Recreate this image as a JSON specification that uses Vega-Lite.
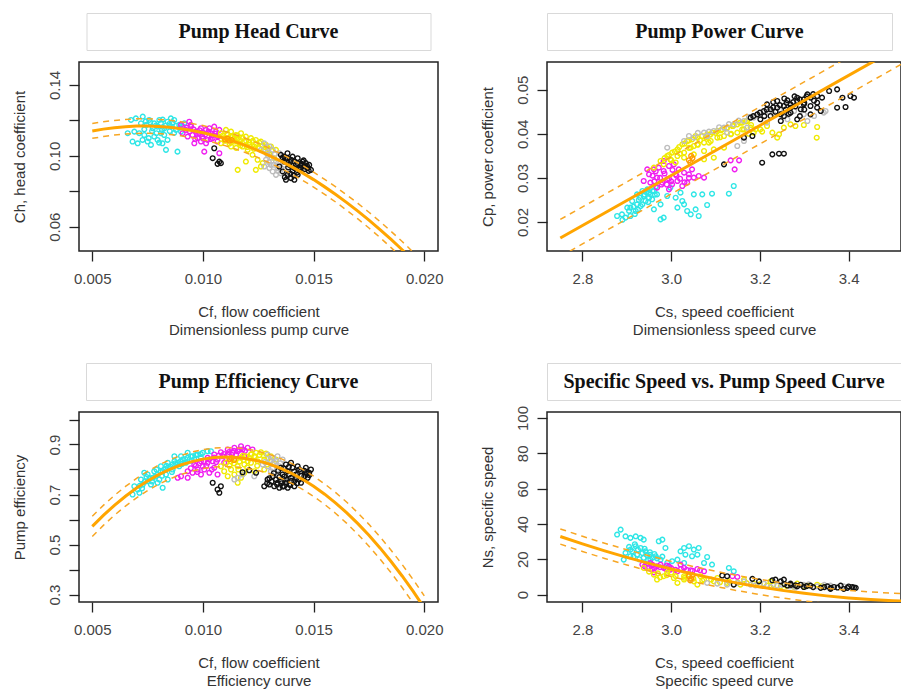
{
"$schema": "https://vega.github.io/schema/vega-lite/v6.json",
"background": "white",
"padding": {"left": 11, "top": 12, "right": 0, "bottom": 0},
"columns": 2,
"spacing": {"row": 12, "column": 109},
"bounds": "flush",
"align": "each",
"center": true,
"datasets": {
"h": [
{"g":"cyan","x":0.00697,"y":0.1212},{"g":"cyan","x":0.00728,"y":0.1222},{"g":"cyan","x":0.00720,"y":0.1184},{"g":"cyan","x":0.00690,"y":0.1137},{"g":"cyan","x":0.00712,"y":0.1128},{"g":"cyan","x":0.00735,"y":0.1118},{"g":"cyan","x":0.00682,"y":0.1081},{"g":"cyan","x":0.00705,"y":0.1071},{"g":"cyan","x":0.00727,"y":0.1090},{"g":"cyan","x":0.00750,"y":0.1081},{"g":"cyan","x":0.00765,"y":0.1062},{"g":"cyan","x":0.00780,"y":0.1109},{"g":"cyan","x":0.00795,"y":0.1090},{"g":"cyan","x":0.00810,"y":0.1128},{"g":"cyan","x":0.00825,"y":0.1156},{"g":"cyan","x":0.00840,"y":0.1193},{"g":"cyan","x":0.00855,"y":0.1212},{"g":"cyan","x":0.00870,"y":0.1203},{"g":"cyan","x":0.00817,"y":0.1071},{"g":"cyan","x":0.00833,"y":0.1034},{"g":"cyan","x":0.00885,"y":0.1024},{"g":"cyan","x":0.00840,"y":0.1090},{"g":"cyan","x":0.00780,"y":0.1184},{"g":"cyan","x":0.00757,"y":0.1203},{"g":"cyan","x":0.00803,"y":0.1203},{"g":"cyan","x":0.00893,"y":0.1175},{"g":"cyan","x":0.00916,"y":0.1184},{"g":"cyan","x":0.00675,"y":0.1203},{"g":"cyan","x":0.00660,"y":0.1128},{"g":"cyan","x":0.00773,"y":0.1156},{"g":"cyan","x":0.00795,"y":0.1165},{"g":"cyan","x":0.00855,"y":0.1165},{"g":"cyan","x":0.00878,"y":0.1147},{"g":"cyan","x":0.00901,"y":0.1137},{"g":"cyan","x":0.00825,"y":0.1118},
{"g":"cyan","x":0.00745,"y":0.1175},{"g":"cyan","x":0.00762,"y":0.1190},{"g":"cyan","x":0.00788,"y":0.1172},{"g":"cyan","x":0.00810,"y":0.1185},{"g":"cyan","x":0.00832,"y":0.1170},{"g":"cyan","x":0.00848,"y":0.1180},{"g":"cyan","x":0.00862,"y":0.1188},{"g":"cyan","x":0.00880,"y":0.1170},{"g":"cyan","x":0.00895,"y":0.1160},{"g":"cyan","x":0.00908,"y":0.1168},{"g":"cyan","x":0.00770,"y":0.1140},{"g":"cyan","x":0.00790,"y":0.1128},{"g":"cyan","x":0.00815,"y":0.1145},{"g":"cyan","x":0.00850,"y":0.1140},{"g":"cyan","x":0.00870,"y":0.1130},{"g":"cyan","x":0.00735,"y":0.1150},{"g":"cyan","x":0.00755,"y":0.1100},{"g":"cyan","x":0.00802,"y":0.1075},{"g":"cyan","x":0.00742,"y":0.1195},{"g":"cyan","x":0.00818,"y":0.1205},
{"g":"magenta","x":0.00901,"y":0.1175},{"g":"magenta","x":0.00923,"y":0.1147},{"g":"magenta","x":0.00946,"y":0.1165},{"g":"magenta","x":0.00968,"y":0.1137},{"g":"magenta","x":0.00991,"y":0.1156},{"g":"magenta","x":0.01014,"y":0.1147},{"g":"magenta","x":0.01036,"y":0.1128},{"g":"magenta","x":0.01059,"y":0.1137},{"g":"magenta","x":0.01074,"y":0.1147},{"g":"magenta","x":0.00931,"y":0.1109},{"g":"magenta","x":0.00953,"y":0.1118},{"g":"magenta","x":0.00976,"y":0.1100},{"g":"magenta","x":0.00998,"y":0.1109},{"g":"magenta","x":0.01021,"y":0.1090},{"g":"magenta","x":0.01044,"y":0.1100},{"g":"magenta","x":0.01066,"y":0.1081},{"g":"magenta","x":0.00908,"y":0.1128},{"g":"magenta","x":0.00961,"y":0.1071},{"g":"magenta","x":0.01006,"y":0.1024},{"g":"magenta","x":0.00983,"y":0.1128},{"g":"magenta","x":0.01029,"y":0.1156},{"g":"magenta","x":0.01051,"y":0.1165},{"g":"magenta","x":0.00938,"y":0.1193},{"g":"magenta","x":0.01014,"y":0.1071},{"g":"magenta","x":0.00991,"y":0.1081},{"g":"magenta","x":0.01074,"y":0.1015},
{"g":"magenta","x":0.00925,"y":0.1160},{"g":"magenta","x":0.00940,"y":0.1138},{"g":"magenta","x":0.00958,"y":0.1150},{"g":"magenta","x":0.00972,"y":0.1125},{"g":"magenta","x":0.00985,"y":0.1145},{"g":"magenta","x":0.00998,"y":0.1132},{"g":"magenta","x":0.01010,"y":0.1120},{"g":"magenta","x":0.01025,"y":0.1138},{"g":"magenta","x":0.01040,"y":0.1115},{"g":"magenta","x":0.01055,"y":0.1125},{"g":"magenta","x":0.01068,"y":0.1110},{"g":"magenta","x":0.00965,"y":0.1095},{"g":"magenta","x":0.01000,"y":0.1098},{"g":"magenta","x":0.01035,"y":0.1095},{"g":"magenta","x":0.00945,"y":0.1175},
{"g":"yellow","x":0.01081,"y":0.1128},{"g":"yellow","x":0.01104,"y":0.1147},{"g":"yellow","x":0.01127,"y":0.1137},{"g":"yellow","x":0.01149,"y":0.1118},{"g":"yellow","x":0.01172,"y":0.1128},{"g":"yellow","x":0.01194,"y":0.1109},{"g":"yellow","x":0.01217,"y":0.1100},{"g":"yellow","x":0.01239,"y":0.1090},{"g":"yellow","x":0.01262,"y":0.1081},{"g":"yellow","x":0.01285,"y":0.1062},{"g":"yellow","x":0.01307,"y":0.1053},{"g":"yellow","x":0.01330,"y":0.1034},{"g":"yellow","x":0.01097,"y":0.1100},{"g":"yellow","x":0.01119,"y":0.1090},{"g":"yellow","x":0.01142,"y":0.1081},{"g":"yellow","x":0.01164,"y":0.1071},{"g":"yellow","x":0.01187,"y":0.1081},{"g":"yellow","x":0.01209,"y":0.1062},{"g":"yellow","x":0.01232,"y":0.1053},{"g":"yellow","x":0.01255,"y":0.1043},{"g":"yellow","x":0.01277,"y":0.1034},{"g":"yellow","x":0.01300,"y":0.1015},{"g":"yellow","x":0.01112,"y":0.1118},{"g":"yellow","x":0.01134,"y":0.1109},{"g":"yellow","x":0.01157,"y":0.1100},{"g":"yellow","x":0.01179,"y":0.1053},{"g":"yellow","x":0.01202,"y":0.1034},{"g":"yellow","x":0.01224,"y":0.1006},{"g":"yellow","x":0.01247,"y":0.0978},{"g":"yellow","x":0.01270,"y":0.0959},{"g":"yellow","x":0.01194,"y":0.0968},{"g":"yellow","x":0.01157,"y":0.0921},{"g":"yellow","x":0.01239,"y":0.0921},{"g":"yellow","x":0.01262,"y":0.0940},{"g":"yellow","x":0.01081,"y":0.1071},{"g":"yellow","x":0.01127,"y":0.1053},{"g":"yellow","x":0.01322,"y":0.0987},
{"g":"yellow","x":0.01090,"y":0.1115},{"g":"yellow","x":0.01110,"y":0.1125},{"g":"yellow","x":0.01125,"y":0.1110},{"g":"yellow","x":0.01140,"y":0.1098},{"g":"yellow","x":0.01155,"y":0.1115},{"g":"yellow","x":0.01168,"y":0.1090},{"g":"yellow","x":0.01180,"y":0.1100},{"g":"yellow","x":0.01195,"y":0.1085},{"g":"yellow","x":0.01210,"y":0.1075},{"g":"yellow","x":0.01225,"y":0.1085},{"g":"yellow","x":0.01240,"y":0.1068},{"g":"yellow","x":0.01255,"y":0.1075},{"g":"yellow","x":0.01268,"y":0.1058},{"g":"yellow","x":0.01282,"y":0.1050},{"g":"yellow","x":0.01295,"y":0.1042},{"g":"yellow","x":0.01310,"y":0.1030},{"g":"yellow","x":0.01170,"y":0.1060},{"g":"yellow","x":0.01200,"y":0.1050},{"g":"yellow","x":0.01230,"y":0.1040},{"g":"yellow","x":0.01150,"y":0.1045},{"g":"yellow","x":0.01120,"y":0.1070},{"g":"yellow","x":0.01100,"y":0.1085},
{"g":"orange","x":0.0110,"y":0.1092},{"g":"orange","x":0.0112,"y":0.1085},{"g":"orange","x":0.0111,"y":0.1098},{"g":"orange","x":0.0113,"y":0.1090},
{"g":"gray","x":0.01277,"y":0.1071},{"g":"gray","x":0.01300,"y":0.1053},{"g":"gray","x":0.01315,"y":0.1034},{"g":"gray","x":0.01292,"y":0.1006},{"g":"gray","x":0.01330,"y":0.0968},{"g":"gray","x":0.01307,"y":0.0949},{"g":"gray","x":0.01337,"y":0.0931},{"g":"gray","x":0.01352,"y":0.0902},{"g":"gray","x":0.01315,"y":0.0912},{"g":"gray","x":0.01345,"y":0.1015},{"g":"gray","x":0.01285,"y":0.0978},{"g":"gray","x":0.01262,"y":0.1034},{"g":"gray","x":0.01367,"y":0.0949},{"g":"gray","x":0.01300,"y":0.0931},{"g":"gray","x":0.01330,"y":0.0893},{"g":"gray","x":0.01277,"y":0.0940},
{"g":"gray","x":0.01290,"y":0.1020},{"g":"gray","x":0.01310,"y":0.0990},{"g":"gray","x":0.01325,"y":0.1010},{"g":"gray","x":0.01340,"y":0.0960},{"g":"gray","x":0.01320,"y":0.0950},{"g":"gray","x":0.01298,"y":0.0965},{"g":"gray","x":0.01355,"y":0.0930},{"g":"gray","x":0.01340,"y":0.0915},
{"g":"black","x":0.01352,"y":0.1006},{"g":"black","x":0.01367,"y":0.0996},{"g":"black","x":0.01382,"y":0.0987},{"g":"black","x":0.01398,"y":0.0978},{"g":"black","x":0.01413,"y":0.0968},{"g":"black","x":0.01428,"y":0.0959},{"g":"black","x":0.01443,"y":0.0949},{"g":"black","x":0.01458,"y":0.0940},{"g":"black","x":0.01473,"y":0.0931},{"g":"black","x":0.01488,"y":0.0921},{"g":"black","x":0.01367,"y":0.0968},{"g":"black","x":0.01390,"y":0.0949},{"g":"black","x":0.01413,"y":0.0931},{"g":"black","x":0.01435,"y":0.0921},{"g":"black","x":0.01382,"y":0.1015},{"g":"black","x":0.01405,"y":0.0996},{"g":"black","x":0.01428,"y":0.0987},{"g":"black","x":0.01450,"y":0.0968},{"g":"black","x":0.01465,"y":0.0959},{"g":"black","x":0.01360,"y":0.0912},{"g":"black","x":0.01382,"y":0.0893},{"g":"black","x":0.01398,"y":0.0874},{"g":"black","x":0.01413,"y":0.0865},{"g":"black","x":0.01375,"y":0.0865},{"g":"black","x":0.01428,"y":0.0893},{"g":"black","x":0.01345,"y":0.0940},{"g":"black","x":0.01480,"y":0.0949},{"g":"black","x":0.01051,"y":0.1043},{"g":"black","x":0.01044,"y":0.0987},{"g":"black","x":0.01074,"y":0.0968},{"g":"black","x":0.01081,"y":0.0959},{"g":"black","x":0.01066,"y":0.0955},
{"g":"black","x":0.01372,"y":0.0985},{"g":"black","x":0.01395,"y":0.0965},{"g":"black","x":0.01420,"y":0.0950},{"g":"black","x":0.01440,"y":0.0935},{"g":"black","x":0.01460,"y":0.0925},{"g":"black","x":0.01478,"y":0.0915},{"g":"black","x":0.01385,"y":0.0935},{"g":"black","x":0.01405,"y":0.0915},{"g":"black","x":0.01425,"y":0.0905},{"g":"black","x":0.01445,"y":0.0955},{"g":"black","x":0.01470,"y":0.0945},{"g":"black","x":0.01395,"y":0.0900},{"g":"black","x":0.01370,"y":0.0880},{"g":"black","x":0.01410,"y":0.0890},{"g":"black","x":0.01360,"y":0.0990},{"g":"black","x":0.01455,"y":0.0975}
],
"hf": [
{"x":0.005,"y":0.1141},{"x":0.0055,"y":0.1151},{"x":0.006,"y":0.1159},{"x":0.0065,"y":0.1165},{"x":0.007,"y":0.1168},{"x":0.0075,"y":0.1168},{"x":0.008,"y":0.1166},{"x":0.0085,"y":0.1161},{"x":0.009,"y":0.1153},{"x":0.0095,"y":0.1143},{"x":0.010,"y":0.1131},{"x":0.0105,"y":0.1116},{"x":0.011,"y":0.1098},{"x":0.0115,"y":0.1078},{"x":0.012,"y":0.1055},{"x":0.0125,"y":0.1030},{"x":0.013,"y":0.1002},{"x":0.0135,"y":0.0972},{"x":0.014,"y":0.0939},{"x":0.0145,"y":0.0904},{"x":0.015,"y":0.0866},{"x":0.0155,"y":0.0825},{"x":0.016,"y":0.0782},{"x":0.0165,"y":0.0736},{"x":0.017,"y":0.0688},{"x":0.0175,"y":0.0637},{"x":0.018,"y":0.0584},{"x":0.0185,"y":0.0528},{"x":0.019,"y":0.0470},{"x":0.0195,"y":0.0409},{"x":0.020,"y":0.0345}
],
"hb": [
{"b":"l","x":0.005,"y":0.1099},{"b":"l","x":0.0055,"y":0.1109},{"b":"l","x":0.006,"y":0.1118},{"b":"l","x":0.0065,"y":0.1124},{"b":"l","x":0.007,"y":0.1127},{"b":"l","x":0.0075,"y":0.1128},{"b":"l","x":0.008,"y":0.1126},{"b":"l","x":0.0085,"y":0.1121},{"b":"l","x":0.009,"y":0.1113},{"b":"l","x":0.0095,"y":0.1103},{"b":"l","x":0.010,"y":0.1091},{"b":"l","x":0.0105,"y":0.1076},{"b":"l","x":0.011,"y":0.1058},{"b":"l","x":0.0115,"y":0.1038},{"b":"l","x":0.012,"y":0.1015},{"b":"l","x":0.0125,"y":0.0990},{"b":"l","x":0.013,"y":0.0961},{"b":"l","x":0.0135,"y":0.0931},{"b":"l","x":0.014,"y":0.0898},{"b":"l","x":0.0145,"y":0.0862},{"b":"l","x":0.015,"y":0.0824},{"b":"l","x":0.0155,"y":0.0783},{"b":"l","x":0.016,"y":0.0739},{"b":"l","x":0.0165,"y":0.0693},{"b":"l","x":0.017,"y":0.0644},{"b":"l","x":0.0175,"y":0.0593},{"b":"l","x":0.018,"y":0.0539},{"b":"l","x":0.0185,"y":0.0482},{"b":"l","x":0.019,"y":0.0424},{"b":"l","x":0.0195,"y":0.0362},{"b":"l","x":0.020,"y":0.0297},
{"b":"u","x":0.005,"y":0.1183},{"b":"u","x":0.0055,"y":0.1193},{"b":"u","x":0.006,"y":0.1200},{"b":"u","x":0.0065,"y":0.1206},{"b":"u","x":0.007,"y":0.1209},{"b":"u","x":0.0075,"y":0.1209},{"b":"u","x":0.008,"y":0.1206},{"b":"u","x":0.0085,"y":0.1201},{"b":"u","x":0.009,"y":0.1193},{"b":"u","x":0.0095,"y":0.1183},{"b":"u","x":0.010,"y":0.1171},{"b":"u","x":0.0105,"y":0.1156},{"b":"u","x":0.011,"y":0.1138},{"b":"u","x":0.0115,"y":0.1118},{"b":"u","x":0.012,"y":0.1095},{"b":"u","x":0.0125,"y":0.1071},{"b":"u","x":0.013,"y":0.1043},{"b":"u","x":0.0135,"y":0.1013},{"b":"u","x":0.014,"y":0.0980},{"b":"u","x":0.0145,"y":0.0946},{"b":"u","x":0.015,"y":0.0908},{"b":"u","x":0.0155,"y":0.0867},{"b":"u","x":0.016,"y":0.0825},{"b":"u","x":0.0165,"y":0.0779},{"b":"u","x":0.017,"y":0.0732},{"b":"u","x":0.0175,"y":0.0682},{"b":"u","x":0.018,"y":0.0629},{"b":"u","x":0.0185,"y":0.0574},{"b":"u","x":0.019,"y":0.0517},{"b":"u","x":0.0195,"y":0.0456},{"b":"u","x":0.020,"y":0.0393}
],
"p": [
{"g":"cyan","x":2.889,"y":0.02174},{"g":"cyan","x":2.901,"y":0.02325},{"g":"cyan","x":2.912,"y":0.02476},{"g":"cyan","x":2.923,"y":0.02627},{"g":"cyan","x":2.935,"y":0.02703},{"g":"cyan","x":2.946,"y":0.02740},{"g":"cyan","x":2.953,"y":0.02627},{"g":"cyan","x":2.942,"y":0.02476},{"g":"cyan","x":2.931,"y":0.02362},{"g":"cyan","x":2.920,"y":0.02249},{"g":"cyan","x":2.908,"y":0.02136},{"g":"cyan","x":2.897,"y":0.02098},{"g":"cyan","x":2.957,"y":0.02514},{"g":"cyan","x":2.923,"y":0.02400},{"g":"cyan","x":2.938,"y":0.02589},{"g":"cyan","x":2.950,"y":0.02665},{"g":"cyan","x":2.961,"y":0.02703},{"g":"cyan","x":2.878,"y":0.02136},{"g":"cyan","x":2.968,"y":0.02627},{"g":"cyan","x":2.908,"y":0.02325},{"g":"cyan","x":2.976,"y":0.02400},{"g":"cyan","x":2.991,"y":0.02589},{"g":"cyan","x":2.998,"y":0.02778},{"g":"cyan","x":3.010,"y":0.02551},{"g":"cyan","x":3.021,"y":0.02665},{"g":"cyan","x":3.029,"y":0.02400},{"g":"cyan","x":3.036,"y":0.02249},{"g":"cyan","x":3.044,"y":0.02174},{"g":"cyan","x":3.055,"y":0.02287},{"g":"cyan","x":3.062,"y":0.02136},{"g":"cyan","x":3.051,"y":0.02627},{"g":"cyan","x":3.070,"y":0.02627},{"g":"cyan","x":3.081,"y":0.02385},{"g":"cyan","x":3.092,"y":0.02642},{"g":"cyan","x":3.130,"y":0.02642},{"g":"cyan","x":3.141,"y":0.02816},{"g":"cyan","x":2.976,"y":0.02060},{"g":"cyan","x":2.983,"y":0.02098},{"g":"cyan","x":2.961,"y":0.02287},{"g":"cyan","x":3.025,"y":0.02476},{"g":"cyan","x":3.014,"y":0.02325},
{"g":"cyan","x":2.915,"y":0.0235},{"g":"cyan","x":2.927,"y":0.0250},{"g":"cyan","x":2.940,"y":0.0262},{"g":"cyan","x":2.950,"y":0.0255},{"g":"cyan","x":2.935,"y":0.0240},{"g":"cyan","x":2.925,"y":0.0228},{"g":"cyan","x":2.945,"y":0.0268},{"g":"cyan","x":2.958,"y":0.0270},{"g":"cyan","x":2.905,"y":0.0225},{"g":"cyan","x":2.918,"y":0.0218},{"g":"cyan","x":2.930,"y":0.0255},{"g":"cyan","x":2.963,"y":0.0262},{"g":"cyan","x":2.948,"y":0.0245},{"g":"cyan","x":2.965,"y":0.0280},{"g":"cyan","x":2.890,"y":0.0205},
{"g":"magenta","x":2.938,"y":0.02930},{"g":"magenta","x":2.950,"y":0.03081},{"g":"magenta","x":2.961,"y":0.03194},{"g":"magenta","x":2.972,"y":0.03232},{"g":"magenta","x":2.983,"y":0.03156},{"g":"magenta","x":2.995,"y":0.03270},{"g":"magenta","x":3.006,"y":0.03307},{"g":"magenta","x":3.017,"y":0.03194},{"g":"magenta","x":3.029,"y":0.03118},{"g":"magenta","x":3.040,"y":0.03081},{"g":"magenta","x":3.051,"y":0.03005},{"g":"magenta","x":3.062,"y":0.03043},{"g":"magenta","x":3.074,"y":0.03005},{"g":"magenta","x":2.953,"y":0.02892},{"g":"magenta","x":2.968,"y":0.03005},{"g":"magenta","x":2.980,"y":0.02892},{"g":"magenta","x":2.991,"y":0.02967},{"g":"magenta","x":3.002,"y":0.02854},{"g":"magenta","x":3.014,"y":0.02930},{"g":"magenta","x":3.025,"y":0.02816},{"g":"magenta","x":3.036,"y":0.02892},{"g":"magenta","x":2.968,"y":0.02778},{"g":"magenta","x":2.995,"y":0.02740},{"g":"magenta","x":2.946,"y":0.03194},{"g":"magenta","x":2.983,"y":0.03383},{"g":"magenta","x":3.134,"y":0.03398},{"g":"magenta","x":3.143,"y":0.03194},{"g":"magenta","x":3.153,"y":0.03398},{"g":"magenta","x":3.047,"y":0.03194},{"g":"magenta","x":3.010,"y":0.03081},
{"g":"magenta","x":2.958,"y":0.0305},{"g":"magenta","x":2.965,"y":0.0315},{"g":"magenta","x":2.975,"y":0.0300},{"g":"magenta","x":2.985,"y":0.0310},{"g":"magenta","x":2.995,"y":0.0298},{"g":"magenta","x":3.003,"y":0.0318},{"g":"magenta","x":3.012,"y":0.0305},{"g":"magenta","x":3.020,"y":0.0298},{"g":"magenta","x":3.030,"y":0.0290},{"g":"magenta","x":2.978,"y":0.0285},{"g":"magenta","x":2.990,"y":0.0285},{"g":"magenta","x":3.000,"y":0.0292},{"g":"magenta","x":2.962,"y":0.0292},{"g":"magenta","x":3.040,"y":0.0300},
{"g":"yellow","x":2.961,"y":0.03232},{"g":"yellow","x":2.976,"y":0.03383},{"g":"yellow","x":2.991,"y":0.03496},{"g":"yellow","x":3.002,"y":0.03572},{"g":"yellow","x":3.014,"y":0.03648},{"g":"yellow","x":3.025,"y":0.03761},{"g":"yellow","x":3.036,"y":0.03837},{"g":"yellow","x":3.047,"y":0.03874},{"g":"yellow","x":3.059,"y":0.03912},{"g":"yellow","x":3.070,"y":0.03950},{"g":"yellow","x":3.081,"y":0.03988},{"g":"yellow","x":3.092,"y":0.04026},{"g":"yellow","x":3.104,"y":0.04063},{"g":"yellow","x":3.115,"y":0.04101},{"g":"yellow","x":3.126,"y":0.04139},{"g":"yellow","x":3.138,"y":0.04177},{"g":"yellow","x":3.149,"y":0.04214},{"g":"yellow","x":3.160,"y":0.04252},{"g":"yellow","x":3.171,"y":0.04290},{"g":"yellow","x":2.983,"y":0.03307},{"g":"yellow","x":2.998,"y":0.03421},{"g":"yellow","x":3.014,"y":0.03496},{"g":"yellow","x":3.029,"y":0.03572},{"g":"yellow","x":3.044,"y":0.03685},{"g":"yellow","x":3.059,"y":0.03761},{"g":"yellow","x":3.074,"y":0.03799},{"g":"yellow","x":3.089,"y":0.03837},{"g":"yellow","x":3.104,"y":0.03912},{"g":"yellow","x":3.119,"y":0.03950},{"g":"yellow","x":3.134,"y":0.03988},{"g":"yellow","x":3.149,"y":0.04026},{"g":"yellow","x":3.164,"y":0.04101},{"g":"yellow","x":3.179,"y":0.04139},{"g":"yellow","x":3.029,"y":0.03458},{"g":"yellow","x":3.051,"y":0.03534},{"g":"yellow","x":3.074,"y":0.03610},{"g":"yellow","x":3.096,"y":0.03648},{"g":"yellow","x":3.119,"y":0.03685},{"g":"yellow","x":3.074,"y":0.03421},{"g":"yellow","x":3.096,"y":0.03458},{"g":"yellow","x":3.051,"y":0.03723},{"g":"yellow","x":3.186,"y":0.04026},{"g":"yellow","x":3.201,"y":0.04101},{"g":"yellow","x":3.216,"y":0.04177},{"g":"yellow","x":3.228,"y":0.04026},{"g":"yellow","x":3.243,"y":0.03988},{"g":"yellow","x":3.254,"y":0.04139},{"g":"yellow","x":3.269,"y":0.04214},{"g":"yellow","x":3.280,"y":0.04177},{"g":"yellow","x":3.299,"y":0.04199},{"g":"yellow","x":3.329,"y":0.04154},{"g":"yellow","x":3.328,"y":0.03912},{"g":"yellow","x":3.239,"y":0.03912},
{"g":"yellow","x":2.985,"y":0.0345},{"g":"yellow","x":2.995,"y":0.0352},{"g":"yellow","x":3.008,"y":0.0360},{"g":"yellow","x":3.018,"y":0.0370},{"g":"yellow","x":3.030,"y":0.0378},{"g":"yellow","x":3.040,"y":0.0385},{"g":"yellow","x":3.055,"y":0.0395},{"g":"yellow","x":3.065,"y":0.0385},{"g":"yellow","x":3.078,"y":0.0392},{"g":"yellow","x":3.088,"y":0.0398},{"g":"yellow","x":3.100,"y":0.0402},{"g":"yellow","x":3.112,"y":0.0408},{"g":"yellow","x":3.125,"y":0.0412},{"g":"yellow","x":3.140,"y":0.0418},{"g":"yellow","x":3.155,"y":0.0425},{"g":"yellow","x":3.168,"y":0.0428},{"g":"yellow","x":3.040,"y":0.0368},{"g":"yellow","x":3.060,"y":0.0375},{"g":"yellow","x":3.085,"y":0.0380},{"g":"yellow","x":3.110,"y":0.0392},{"g":"yellow","x":3.135,"y":0.0400},{"g":"yellow","x":3.160,"y":0.0410},{"g":"yellow","x":3.180,"y":0.0420},{"g":"yellow","x":3.000,"y":0.0340},{"g":"yellow","x":3.020,"y":0.0355},{"g":"yellow","x":3.010,"y":0.0335},{"g":"yellow","x":3.190,"y":0.0410},{"g":"yellow","x":3.205,"y":0.0405},{"g":"yellow","x":3.175,"y":0.0400},
{"g":"orange","x":3.040,"y":0.0340},{"g":"orange","x":3.045,"y":0.0350},{"g":"orange","x":3.043,"y":0.0335},{"g":"orange","x":3.048,"y":0.0345},
{"g":"gray","x":3.029,"y":0.03837},{"g":"gray","x":3.051,"y":0.03912},{"g":"gray","x":3.074,"y":0.04026},{"g":"gray","x":3.096,"y":0.04063},{"g":"gray","x":3.119,"y":0.04139},{"g":"gray","x":3.141,"y":0.04214},{"g":"gray","x":3.164,"y":0.04290},{"g":"gray","x":3.186,"y":0.04366},{"g":"gray","x":3.209,"y":0.04403},{"g":"gray","x":3.231,"y":0.04441},{"g":"gray","x":3.254,"y":0.04479},{"g":"gray","x":3.277,"y":0.04517},{"g":"gray","x":3.299,"y":0.04441},{"g":"gray","x":3.322,"y":0.04403},{"g":"gray","x":3.344,"y":0.04479},{"g":"gray","x":3.081,"y":0.03950},{"g":"gray","x":3.126,"y":0.04026},{"g":"gray","x":3.171,"y":0.04139},{"g":"gray","x":3.216,"y":0.04252},{"g":"gray","x":3.262,"y":0.04328},{"g":"gray","x":3.307,"y":0.04290},{"g":"gray","x":3.348,"y":0.04517},{"g":"gray","x":3.164,"y":0.03837},{"g":"gray","x":3.149,"y":0.03723},{"g":"gray","x":2.991,"y":0.03685},
{"g":"gray","x":3.040,"y":0.0395},{"g":"gray","x":3.060,"y":0.0402},{"g":"gray","x":3.085,"y":0.0405},{"g":"gray","x":3.108,"y":0.0415},{"g":"gray","x":3.130,"y":0.0422},{"g":"gray","x":3.152,"y":0.0430},{"g":"gray","x":3.175,"y":0.0438},{"g":"gray","x":3.198,"y":0.0442},{"g":"gray","x":3.220,"y":0.0450},{"g":"gray","x":3.245,"y":0.0455},
{"g":"black","x":3.179,"y":0.04366},{"g":"black","x":3.194,"y":0.04441},{"g":"black","x":3.209,"y":0.04517},{"g":"black","x":3.224,"y":0.04555},{"g":"black","x":3.239,"y":0.04593},{"g":"black","x":3.254,"y":0.04630},{"g":"black","x":3.269,"y":0.04668},{"g":"black","x":3.284,"y":0.04744},{"g":"black","x":3.299,"y":0.04781},{"g":"black","x":3.314,"y":0.04819},{"g":"black","x":3.329,"y":0.04857},{"g":"black","x":3.201,"y":0.04328},{"g":"black","x":3.224,"y":0.04403},{"g":"black","x":3.247,"y":0.04441},{"g":"black","x":3.269,"y":0.04479},{"g":"black","x":3.292,"y":0.04555},{"g":"black","x":3.314,"y":0.04630},{"g":"black","x":3.329,"y":0.04706},{"g":"black","x":3.216,"y":0.04668},{"g":"black","x":3.239,"y":0.04744},{"g":"black","x":3.262,"y":0.04759},{"g":"black","x":3.284,"y":0.04819},{"g":"black","x":3.307,"y":0.04895},{"g":"black","x":3.254,"y":0.04403},{"g":"black","x":3.284,"y":0.04328},{"g":"black","x":3.314,"y":0.04441},{"g":"black","x":3.337,"y":0.04517},{"g":"black","x":3.269,"y":0.04592},{"g":"black","x":3.299,"y":0.04668},{"g":"black","x":3.247,"y":0.04290},{"g":"black","x":3.119,"y":0.03307},{"g":"black","x":3.205,"y":0.03345},{"g":"black","x":3.228,"y":0.03534},{"g":"black","x":3.243,"y":0.03549},{"g":"black","x":3.254,"y":0.03549},{"g":"black","x":3.356,"y":0.04970},{"g":"black","x":3.374,"y":0.05008},{"g":"black","x":3.386,"y":0.04819},{"g":"black","x":3.404,"y":0.04857},{"g":"black","x":3.412,"y":0.04819},{"g":"black","x":3.374,"y":0.04592},{"g":"black","x":3.393,"y":0.04607},{"g":"black","x":3.329,"y":0.04592},{"g":"black","x":3.164,"y":0.03912},{"g":"black","x":3.183,"y":0.03950},
{"g":"black","x":3.185,"y":0.0440},{"g":"black","x":3.200,"y":0.0448},{"g":"black","x":3.215,"y":0.0455},{"g":"black","x":3.230,"y":0.0460},{"g":"black","x":3.245,"y":0.0465},{"g":"black","x":3.260,"y":0.0470},{"g":"black","x":3.275,"y":0.0472},{"g":"black","x":3.290,"y":0.0478},{"g":"black","x":3.305,"y":0.0485},{"g":"black","x":3.320,"y":0.0490},{"g":"black","x":3.210,"y":0.0440},{"g":"black","x":3.235,"y":0.0450},{"g":"black","x":3.258,"y":0.0455},{"g":"black","x":3.280,"y":0.0462},{"g":"black","x":3.300,"y":0.0470},{"g":"black","x":3.322,"y":0.0475},{"g":"black","x":3.340,"y":0.0482},{"g":"black","x":3.230,"y":0.0472},{"g":"black","x":3.255,"y":0.0480},{"g":"black","x":3.278,"y":0.0485},{"g":"black","x":3.300,"y":0.0455},{"g":"black","x":3.265,"y":0.0445},{"g":"black","x":3.290,"y":0.0440}
],
"pf": [
{"x":2.75,"y":0.01638},{"x":2.85,"y":0.02205},{"x":2.95,"y":0.02772},{"x":3.05,"y":0.03339},{"x":3.15,"y":0.03906},{"x":3.25,"y":0.04473},{"x":3.35,"y":0.05040},{"x":3.45,"y":0.05607},{"x":3.55,"y":0.06174}
],
"pb": [
{"b":"l","x":2.75,"y":0.01218},{"b":"l","x":2.85,"y":0.01785},{"b":"l","x":2.95,"y":0.02352},{"b":"l","x":3.05,"y":0.02919},{"b":"l","x":3.15,"y":0.03486},{"b":"l","x":3.25,"y":0.04053},{"b":"l","x":3.35,"y":0.04620},{"b":"l","x":3.45,"y":0.05187},{"b":"l","x":3.55,"y":0.05754},
{"b":"u","x":2.75,"y":0.02058},{"b":"u","x":2.85,"y":0.02625},{"b":"u","x":2.95,"y":0.03192},{"b":"u","x":3.05,"y":0.03759},{"b":"u","x":3.15,"y":0.04326},{"b":"u","x":3.25,"y":0.04893},{"b":"u","x":3.35,"y":0.05460},{"b":"u","x":3.45,"y":0.06027},{"b":"u","x":3.55,"y":0.06594}
],
"e": [
{"g":"cyan","x":0.00682,"y":0.700},{"g":"cyan","x":0.00705,"y":0.720},{"g":"cyan","x":0.00728,"y":0.740},{"g":"cyan","x":0.00750,"y":0.753},{"g":"cyan","x":0.00773,"y":0.767},{"g":"cyan","x":0.00795,"y":0.780},{"g":"cyan","x":0.00818,"y":0.793},{"g":"cyan","x":0.00841,"y":0.807},{"g":"cyan","x":0.00863,"y":0.820},{"g":"cyan","x":0.00886,"y":0.827},{"g":"cyan","x":0.00908,"y":0.840},{"g":"cyan","x":0.00931,"y":0.847},{"g":"cyan","x":0.00953,"y":0.853},{"g":"cyan","x":0.00976,"y":0.860},{"g":"cyan","x":0.00999,"y":0.867},{"g":"cyan","x":0.01021,"y":0.873},{"g":"cyan","x":0.00690,"y":0.733},{"g":"cyan","x":0.00720,"y":0.760},{"g":"cyan","x":0.00750,"y":0.780},{"g":"cyan","x":0.00780,"y":0.793},{"g":"cyan","x":0.00810,"y":0.813},{"g":"cyan","x":0.00841,"y":0.827},{"g":"cyan","x":0.00871,"y":0.833},{"g":"cyan","x":0.00901,"y":0.853},{"g":"cyan","x":0.00931,"y":0.867},{"g":"cyan","x":0.00961,"y":0.840},{"g":"cyan","x":0.00991,"y":0.847},{"g":"cyan","x":0.00735,"y":0.787},{"g":"cyan","x":0.00713,"y":0.707},{"g":"cyan","x":0.00765,"y":0.740},{"g":"cyan","x":0.00803,"y":0.760},{"g":"cyan","x":0.00833,"y":0.780},{"g":"cyan","x":0.00863,"y":0.800},{"g":"cyan","x":0.00893,"y":0.813},{"g":"cyan","x":0.00923,"y":0.827},{"g":"cyan","x":0.01036,"y":0.873},{"g":"cyan","x":0.00871,"y":0.853},{"g":"cyan","x":0.00818,"y":0.727},{"g":"cyan","x":0.00795,"y":0.747},{"g":"cyan","x":0.00841,"y":0.760},
{"g":"cyan","x":0.00715,"y":0.735},{"g":"cyan","x":0.00738,"y":0.752},{"g":"cyan","x":0.00760,"y":0.765},{"g":"cyan","x":0.00785,"y":0.772},{"g":"cyan","x":0.00808,"y":0.790},{"g":"cyan","x":0.00830,"y":0.802},{"g":"cyan","x":0.00852,"y":0.812},{"g":"cyan","x":0.00875,"y":0.825},{"g":"cyan","x":0.00898,"y":0.832},{"g":"cyan","x":0.00920,"y":0.842},{"g":"cyan","x":0.00945,"y":0.852},{"g":"cyan","x":0.00968,"y":0.858},{"g":"cyan","x":0.00990,"y":0.862},{"g":"cyan","x":0.00725,"y":0.725},{"g":"cyan","x":0.00770,"y":0.752},{"g":"cyan","x":0.00815,"y":0.775},{"g":"cyan","x":0.00860,"y":0.790},{"g":"cyan","x":0.00905,"y":0.822},{"g":"cyan","x":0.00950,"y":0.835},{"g":"cyan","x":0.00745,"y":0.770},{"g":"cyan","x":0.00790,"y":0.800},{"g":"cyan","x":0.00835,"y":0.815},
{"g":"magenta","x":0.00901,"y":0.773},{"g":"magenta","x":0.00931,"y":0.793},{"g":"magenta","x":0.00953,"y":0.787},{"g":"magenta","x":0.00976,"y":0.800},{"g":"magenta","x":0.00999,"y":0.813},{"g":"magenta","x":0.01021,"y":0.827},{"g":"magenta","x":0.01044,"y":0.833},{"g":"magenta","x":0.01066,"y":0.840},{"g":"magenta","x":0.01089,"y":0.853},{"g":"magenta","x":0.01112,"y":0.860},{"g":"magenta","x":0.01134,"y":0.867},{"g":"magenta","x":0.01157,"y":0.873},{"g":"magenta","x":0.01179,"y":0.880},{"g":"magenta","x":0.01202,"y":0.887},{"g":"magenta","x":0.01224,"y":0.880},{"g":"magenta","x":0.00961,"y":0.820},{"g":"magenta","x":0.00991,"y":0.833},{"g":"magenta","x":0.01021,"y":0.847},{"g":"magenta","x":0.01051,"y":0.860},{"g":"magenta","x":0.01081,"y":0.869},{"g":"magenta","x":0.01112,"y":0.880},{"g":"magenta","x":0.01142,"y":0.887},{"g":"magenta","x":0.01172,"y":0.893},{"g":"magenta","x":0.00991,"y":0.780},{"g":"magenta","x":0.01029,"y":0.787},{"g":"magenta","x":0.01066,"y":0.780},{"g":"magenta","x":0.01006,"y":0.800},{"g":"magenta","x":0.01051,"y":0.807},{"g":"magenta","x":0.01096,"y":0.827},{"g":"magenta","x":0.01142,"y":0.840},{"g":"magenta","x":0.01187,"y":0.853},{"g":"magenta","x":0.00886,"y":0.767},{"g":"magenta","x":0.00931,"y":0.767},
{"g":"magenta","x":0.00945,"y":0.805},{"g":"magenta","x":0.00968,"y":0.815},{"g":"magenta","x":0.00985,"y":0.825},{"g":"magenta","x":0.01005,"y":0.832},{"g":"magenta","x":0.01028,"y":0.840},{"g":"magenta","x":0.01050,"y":0.848},{"g":"magenta","x":0.01072,"y":0.856},{"g":"magenta","x":0.01095,"y":0.862},{"g":"magenta","x":0.01118,"y":0.870},{"g":"magenta","x":0.01140,"y":0.875},{"g":"magenta","x":0.01165,"y":0.880},{"g":"magenta","x":0.01190,"y":0.875},{"g":"magenta","x":0.01015,"y":0.815},{"g":"magenta","x":0.01060,"y":0.830},{"g":"magenta","x":0.01105,"y":0.845},{"g":"magenta","x":0.01150,"y":0.860},{"g":"magenta","x":0.00975,"y":0.790},{"g":"magenta","x":0.01040,"y":0.800},
{"g":"yellow","x":0.01081,"y":0.813},{"g":"yellow","x":0.01104,"y":0.827},{"g":"yellow","x":0.01127,"y":0.833},{"g":"yellow","x":0.01149,"y":0.840},{"g":"yellow","x":0.01172,"y":0.847},{"g":"yellow","x":0.01194,"y":0.853},{"g":"yellow","x":0.01217,"y":0.860},{"g":"yellow","x":0.01240,"y":0.867},{"g":"yellow","x":0.01262,"y":0.869},{"g":"yellow","x":0.01285,"y":0.864},{"g":"yellow","x":0.01307,"y":0.853},{"g":"yellow","x":0.01096,"y":0.793},{"g":"yellow","x":0.01127,"y":0.800},{"g":"yellow","x":0.01157,"y":0.813},{"g":"yellow","x":0.01187,"y":0.820},{"g":"yellow","x":0.01217,"y":0.827},{"g":"yellow","x":0.01247,"y":0.833},{"g":"yellow","x":0.01277,"y":0.840},{"g":"yellow","x":0.01307,"y":0.833},{"g":"yellow","x":0.01142,"y":0.780},{"g":"yellow","x":0.01187,"y":0.787},{"g":"yellow","x":0.01232,"y":0.793},{"g":"yellow","x":0.01277,"y":0.800},{"g":"yellow","x":0.01157,"y":0.747},{"g":"yellow","x":0.01172,"y":0.767},{"g":"yellow","x":0.01112,"y":0.773},{"g":"yellow","x":0.01330,"y":0.840},{"g":"yellow","x":0.01232,"y":0.853},{"g":"yellow","x":0.01202,"y":0.833},
{"g":"yellow","x":0.01120,"y":0.815},{"g":"yellow","x":0.01140,"y":0.825},{"g":"yellow","x":0.01165,"y":0.832},{"g":"yellow","x":0.01185,"y":0.838},{"g":"yellow","x":0.01210,"y":0.845},{"g":"yellow","x":0.01235,"y":0.852},{"g":"yellow","x":0.01255,"y":0.858},{"g":"yellow","x":0.01275,"y":0.855},{"g":"yellow","x":0.01295,"y":0.845},{"g":"yellow","x":0.01160,"y":0.800},{"g":"yellow","x":0.01200,"y":0.808},{"g":"yellow","x":0.01245,"y":0.815},{"g":"yellow","x":0.01290,"y":0.820},{"g":"yellow","x":0.01220,"y":0.862},{"g":"yellow","x":0.01180,"y":0.855},
{"g":"orange","x":0.0112,"y":0.842},{"g":"orange","x":0.0114,"y":0.838},{"g":"orange","x":0.0113,"y":0.846},
{"g":"gray","x":0.01157,"y":0.767},{"g":"gray","x":0.01179,"y":0.780},{"g":"gray","x":0.01142,"y":0.760},{"g":"gray","x":0.01292,"y":0.860},{"g":"gray","x":0.01315,"y":0.847},{"g":"gray","x":0.01337,"y":0.853},{"g":"gray","x":0.01360,"y":0.840},{"g":"gray","x":0.01322,"y":0.827},{"g":"gray","x":0.01345,"y":0.813},{"g":"gray","x":0.01292,"y":0.813},{"g":"gray","x":0.01270,"y":0.820},{"g":"gray","x":0.01307,"y":0.793},{"g":"gray","x":0.01352,"y":0.787},{"g":"gray","x":0.01232,"y":0.773},
{"g":"gray","x":0.01305,"y":0.838},{"g":"gray","x":0.01330,"y":0.833},{"g":"gray","x":0.01350,"y":0.825},{"g":"gray","x":0.01315,"y":0.805},{"g":"gray","x":0.01338,"y":0.800},{"g":"gray","x":0.01280,"y":0.830},
{"g":"black","x":0.01277,"y":0.733},{"g":"black","x":0.01300,"y":0.740},{"g":"black","x":0.01322,"y":0.733},{"g":"black","x":0.01345,"y":0.727},{"g":"black","x":0.01367,"y":0.733},{"g":"black","x":0.01390,"y":0.740},{"g":"black","x":0.01413,"y":0.753},{"g":"black","x":0.01435,"y":0.760},{"g":"black","x":0.01458,"y":0.773},{"g":"black","x":0.01480,"y":0.787},{"g":"black","x":0.01488,"y":0.800},{"g":"black","x":0.01465,"y":0.807},{"g":"black","x":0.01443,"y":0.793},{"g":"black","x":0.01420,"y":0.780},{"g":"black","x":0.01398,"y":0.767},{"g":"black","x":0.01375,"y":0.760},{"g":"black","x":0.01352,"y":0.753},{"g":"black","x":0.01330,"y":0.760},{"g":"black","x":0.01360,"y":0.780},{"g":"black","x":0.01383,"y":0.793},{"g":"black","x":0.01405,"y":0.807},{"g":"black","x":0.01428,"y":0.813},{"g":"black","x":0.01352,"y":0.807},{"g":"black","x":0.01375,"y":0.820},{"g":"black","x":0.01398,"y":0.827},{"g":"black","x":0.01292,"y":0.760},{"g":"black","x":0.01315,"y":0.773},{"g":"black","x":0.01337,"y":0.747},{"g":"black","x":0.01383,"y":0.727},{"g":"black","x":0.01413,"y":0.733},{"g":"black","x":0.01443,"y":0.747},{"g":"black","x":0.01473,"y":0.767},{"g":"black","x":0.01044,"y":0.747},{"g":"black","x":0.01066,"y":0.720},{"g":"black","x":0.01081,"y":0.733},{"g":"black","x":0.01074,"y":0.707},{"g":"black","x":0.01179,"y":0.789},{"g":"black","x":0.01209,"y":0.797},{"g":"black","x":0.01240,"y":0.787},
{"g":"black","x":0.01290,"y":0.745},{"g":"black","x":0.01310,"y":0.752},{"g":"black","x":0.01335,"y":0.740},{"g":"black","x":0.01355,"y":0.745},{"g":"black","x":0.01378,"y":0.748},{"g":"black","x":0.01400,"y":0.755},{"g":"black","x":0.01422,"y":0.765},{"g":"black","x":0.01445,"y":0.775},{"g":"black","x":0.01468,"y":0.785},{"g":"black","x":0.01345,"y":0.770},{"g":"black","x":0.01368,"y":0.772},{"g":"black","x":0.01390,"y":0.780},{"g":"black","x":0.01412,"y":0.792},{"g":"black","x":0.01435,"y":0.800},{"g":"black","x":0.01458,"y":0.795},{"g":"black","x":0.01480,"y":0.778},{"g":"black","x":0.01320,"y":0.785},{"g":"black","x":0.01340,"y":0.795},{"g":"black","x":0.01365,"y":0.805},{"g":"black","x":0.01388,"y":0.810},{"g":"black","x":0.01300,"y":0.765},{"g":"black","x":0.01360,"y":0.732},{"g":"black","x":0.01395,"y":0.738},{"g":"black","x":0.01425,"y":0.745}
],
"ef": [
{"x":0.005,"y":0.5727},{"x":0.0055,"y":0.6166},{"x":0.006,"y":0.6567},{"x":0.0065,"y":0.6930},{"x":0.007,"y":0.7256},{"x":0.0075,"y":0.7543},{"x":0.008,"y":0.7793},{"x":0.0085,"y":0.8005},{"x":0.009,"y":0.8180},{"x":0.0095,"y":0.8316},{"x":0.010,"y":0.8415},{"x":0.0105,"y":0.8476},{"x":0.011,"y":0.8500},{"x":0.0115,"y":0.8485},{"x":0.012,"y":0.8433},{"x":0.0125,"y":0.8343},{"x":0.013,"y":0.8216},{"x":0.0135,"y":0.8051},{"x":0.014,"y":0.7848},{"x":0.0145,"y":0.7607},{"x":0.015,"y":0.7328},{"x":0.0155,"y":0.7012},{"x":0.016,"y":0.6658},{"x":0.0165,"y":0.6266},{"x":0.017,"y":0.5836},{"x":0.0175,"y":0.5369},{"x":0.018,"y":0.4864},{"x":0.0185,"y":0.4321},{"x":0.019,"y":0.3740},{"x":0.0195,"y":0.3122},{"x":0.020,"y":0.2466}
],
"eb": [
{"b":"l","x":0.005,"y":0.5322},{"b":"l","x":0.0055,"y":0.5766},{"b":"l","x":0.006,"y":0.6171},{"b":"l","x":0.0065,"y":0.6538},{"b":"l","x":0.007,"y":0.6867},{"b":"l","x":0.0075,"y":0.7157},{"b":"l","x":0.008,"y":0.7409},{"b":"l","x":0.0085,"y":0.7623},{"b":"l","x":0.009,"y":0.7799},{"b":"l","x":0.0095,"y":0.7936},{"b":"l","x":0.010,"y":0.8035},{"b":"l","x":0.0105,"y":0.8096},{"b":"l","x":0.011,"y":0.8120},{"b":"l","x":0.0115,"y":0.8103},{"b":"l","x":0.012,"y":0.8049},{"b":"l","x":0.0125,"y":0.7957},{"b":"l","x":0.013,"y":0.7827},{"b":"l","x":0.0135,"y":0.7659},{"b":"l","x":0.014,"y":0.7452},{"b":"l","x":0.0145,"y":0.7207},{"b":"l","x":0.015,"y":0.6923},{"b":"l","x":0.0155,"y":0.6602},{"b":"l","x":0.016,"y":0.6242},{"b":"l","x":0.0165,"y":0.5844},{"b":"l","x":0.017,"y":0.5407},{"b":"l","x":0.0175,"y":0.4933},{"b":"l","x":0.018,"y":0.4420},{"b":"l","x":0.0185,"y":0.3869},{"b":"l","x":0.019,"y":0.3279},{"b":"l","x":0.0195,"y":0.2652},{"b":"l","x":0.020,"y":0.1986},
{"b":"u","x":0.005,"y":0.6132},{"b":"u","x":0.0055,"y":0.6566},{"b":"u","x":0.006,"y":0.6963},{"b":"u","x":0.0065,"y":0.7322},{"b":"u","x":0.007,"y":0.7645},{"b":"u","x":0.0075,"y":0.7929},{"b":"u","x":0.008,"y":0.8177},{"b":"u","x":0.0085,"y":0.8387},{"b":"u","x":0.009,"y":0.8561},{"b":"u","x":0.0095,"y":0.8696},{"b":"u","x":0.010,"y":0.8795},{"b":"u","x":0.0105,"y":0.8856},{"b":"u","x":0.011,"y":0.8880},{"b":"u","x":0.0115,"y":0.8867},{"b":"u","x":0.012,"y":0.8817},{"b":"u","x":0.0125,"y":0.8729},{"b":"u","x":0.013,"y":0.8605},{"b":"u","x":0.0135,"y":0.8443},{"b":"u","x":0.014,"y":0.8244},{"b":"u","x":0.0145,"y":0.8007},{"b":"u","x":0.015,"y":0.7733},{"b":"u","x":0.0155,"y":0.7422},{"b":"u","x":0.016,"y":0.7074},{"b":"u","x":0.0165,"y":0.6688},{"b":"u","x":0.017,"y":0.6265},{"b":"u","x":0.0175,"y":0.5805},{"b":"u","x":0.018,"y":0.5308},{"b":"u","x":0.0185,"y":0.4773},{"b":"u","x":0.019,"y":0.4201},{"b":"u","x":0.0195,"y":0.3592},{"b":"u","x":0.020,"y":0.2946}
],
"n": [
{"g":"cyan","x":2.878,"y":34.0},{"g":"cyan","x":2.886,"y":36.8},{"g":"cyan","x":2.897,"y":33.0},{"g":"cyan","x":2.908,"y":32.1},{"g":"cyan","x":2.920,"y":33.0},{"g":"cyan","x":2.931,"y":32.1},{"g":"cyan","x":2.938,"y":31.1},{"g":"cyan","x":2.972,"y":30.2},{"g":"cyan","x":2.980,"y":31.1},{"g":"cyan","x":2.987,"y":26.4},{"g":"cyan","x":3.021,"y":24.5},{"g":"cyan","x":3.029,"y":26.4},{"g":"cyan","x":3.040,"y":27.4},{"g":"cyan","x":3.051,"y":25.5},{"g":"cyan","x":3.062,"y":26.4},{"g":"cyan","x":3.059,"y":22.6},{"g":"cyan","x":3.047,"y":21.7},{"g":"cyan","x":3.032,"y":22.6},{"g":"cyan","x":3.014,"y":19.8},{"g":"cyan","x":3.029,"y":17.9},{"g":"cyan","x":3.081,"y":21.3},{"g":"cyan","x":3.092,"y":17.0},{"g":"cyan","x":3.074,"y":17.9},{"g":"cyan","x":3.130,"y":15.1},{"g":"cyan","x":3.141,"y":13.2},{"g":"cyan","x":2.897,"y":23.6},{"g":"cyan","x":2.908,"y":25.5},{"g":"cyan","x":2.920,"y":27.4},{"g":"cyan","x":2.931,"y":26.4},{"g":"cyan","x":2.942,"y":24.5},{"g":"cyan","x":2.953,"y":22.6},{"g":"cyan","x":2.965,"y":21.7},{"g":"cyan","x":2.976,"y":19.8},{"g":"cyan","x":2.908,"y":21.7},{"g":"cyan","x":2.923,"y":22.6},{"g":"cyan","x":2.938,"y":20.8},{"g":"cyan","x":2.953,"y":19.8},{"g":"cyan","x":2.893,"y":19.8},{"g":"cyan","x":2.991,"y":17.9},{"g":"cyan","x":3.002,"y":18.9},
{"g":"cyan","x":2.912,"y":24.5},{"g":"cyan","x":2.925,"y":25.5},{"g":"cyan","x":2.935,"y":23.5},{"g":"cyan","x":2.945,"y":22.5},{"g":"cyan","x":2.958,"y":21.0},{"g":"cyan","x":2.968,"y":20.5},{"g":"cyan","x":2.915,"y":21.5},{"g":"cyan","x":2.928,"y":20.0},{"g":"cyan","x":2.940,"y":26.0},{"g":"cyan","x":2.952,"y":24.0},{"g":"cyan","x":2.962,"y":23.0},{"g":"cyan","x":2.905,"y":27.0},{"g":"cyan","x":2.918,"y":28.5},{"g":"cyan","x":2.948,"y":19.5},{"g":"cyan","x":2.980,"y":21.5},
{"g":"magenta","x":2.935,"y":17.0},{"g":"magenta","x":2.946,"y":15.1},{"g":"magenta","x":2.957,"y":14.1},{"g":"magenta","x":2.968,"y":16.0},{"g":"magenta","x":2.983,"y":15.1},{"g":"magenta","x":2.998,"y":14.1},{"g":"magenta","x":3.014,"y":13.2},{"g":"magenta","x":3.029,"y":15.1},{"g":"magenta","x":3.044,"y":13.8},{"g":"magenta","x":3.059,"y":14.5},{"g":"magenta","x":3.074,"y":13.2},{"g":"magenta","x":2.953,"y":17.9},{"g":"magenta","x":2.976,"y":17.0},{"g":"magenta","x":2.995,"y":16.0},{"g":"magenta","x":3.021,"y":17.0},{"g":"magenta","x":3.138,"y":10.4},{"g":"magenta","x":3.149,"y":10.0},{"g":"magenta","x":2.961,"y":12.6},
{"g":"magenta","x":2.940,"y":16.0},{"g":"magenta","x":2.950,"y":15.5},{"g":"magenta","x":2.962,"y":15.0},{"g":"magenta","x":2.975,"y":15.5},{"g":"magenta","x":2.988,"y":14.5},{"g":"magenta","x":3.000,"y":15.0},{"g":"magenta","x":3.010,"y":14.0},{"g":"magenta","x":3.022,"y":14.5},{"g":"magenta","x":3.035,"y":14.0},{"g":"magenta","x":3.048,"y":13.5},{"g":"magenta","x":3.065,"y":13.8},{"g":"magenta","x":2.958,"y":16.8},{"g":"magenta","x":2.990,"y":16.5},
{"g":"yellow","x":2.938,"y":15.1},{"g":"yellow","x":2.961,"y":11.3},{"g":"yellow","x":2.983,"y":10.4},{"g":"yellow","x":3.006,"y":9.4},{"g":"yellow","x":3.029,"y":8.5},{"g":"yellow","x":3.051,"y":7.5},{"g":"yellow","x":3.074,"y":8.5},{"g":"yellow","x":3.096,"y":7.5},{"g":"yellow","x":3.126,"y":6.6},{"g":"yellow","x":3.156,"y":5.6},{"g":"yellow","x":3.186,"y":6.2},{"g":"yellow","x":3.216,"y":5.1},{"g":"yellow","x":3.247,"y":4.7},{"g":"yellow","x":3.277,"y":4.3},{"g":"yellow","x":3.307,"y":5.1},{"g":"yellow","x":3.329,"y":5.6},{"g":"yellow","x":2.991,"y":12.3},{"g":"yellow","x":3.029,"y":10.4},{"g":"yellow","x":3.066,"y":10.4},{"g":"yellow","x":3.104,"y":9.4},{"g":"yellow","x":3.164,"y":8.5},{"g":"yellow","x":3.224,"y":7.5},{"g":"yellow","x":3.284,"y":6.2},{"g":"yellow","x":2.968,"y":8.5},{"g":"yellow","x":3.014,"y":6.6},{"g":"yellow","x":3.059,"y":5.6},{"g":"yellow","x":3.269,"y":5.6},
{"g":"yellow","x":2.950,"y":13.0},{"g":"yellow","x":2.970,"y":12.0},{"g":"yellow","x":2.990,"y":11.0},{"g":"yellow","x":3.010,"y":10.5},{"g":"yellow","x":3.030,"y":9.5},{"g":"yellow","x":3.050,"y":9.0},{"g":"yellow","x":3.070,"y":8.0},{"g":"yellow","x":3.090,"y":8.5},{"g":"yellow","x":3.110,"y":7.0},{"g":"yellow","x":3.130,"y":7.5},{"g":"yellow","x":3.150,"y":6.8},{"g":"yellow","x":3.170,"y":6.5},{"g":"yellow","x":3.200,"y":5.8},{"g":"yellow","x":3.230,"y":5.5},{"g":"yellow","x":3.260,"y":5.0},{"g":"yellow","x":3.300,"y":4.5},{"g":"yellow","x":3.340,"y":4.8},{"g":"yellow","x":3.040,"y":11.5},{"g":"yellow","x":3.000,"y":12.5},{"g":"yellow","x":2.975,"y":9.8},
{"g":"orange","x":3.040,"y":10.5},{"g":"orange","x":3.045,"y":9.0},{"g":"orange","x":3.048,"y":11.0},{"g":"orange","x":3.043,"y":8.0},
{"g":"gray","x":3.081,"y":6.6},{"g":"gray","x":3.104,"y":6.2},{"g":"gray","x":3.126,"y":5.6},{"g":"gray","x":3.149,"y":6.6},{"g":"gray","x":3.179,"y":5.6},{"g":"gray","x":3.209,"y":6.2},{"g":"gray","x":3.239,"y":5.1},{"g":"gray","x":3.269,"y":4.7},{"g":"gray","x":3.299,"y":5.5},{"g":"gray","x":3.329,"y":4.7},{"g":"gray","x":3.359,"y":5.1},{"g":"gray","x":3.389,"y":4.7},{"g":"gray","x":3.164,"y":7.5},{"g":"gray","x":3.224,"y":4.3},
{"g":"gray","x":3.190,"y":5.2},{"g":"gray","x":3.250,"y":5.5},{"g":"gray","x":3.280,"y":4.0},{"g":"gray","x":3.310,"y":5.8},{"g":"gray","x":3.345,"y":5.5},
{"g":"black","x":3.115,"y":10.8},{"g":"black","x":3.126,"y":10.4},{"g":"black","x":3.141,"y":5.6},{"g":"black","x":3.183,"y":8.9},{"g":"black","x":3.198,"y":7.5},{"g":"black","x":3.228,"y":8.1},{"g":"black","x":3.235,"y":8.5},{"g":"black","x":3.247,"y":7.5},{"g":"black","x":3.262,"y":5.1},{"g":"black","x":3.269,"y":6.2},{"g":"black","x":3.284,"y":4.7},{"g":"black","x":3.299,"y":4.3},{"g":"black","x":3.314,"y":5.1},{"g":"black","x":3.337,"y":3.8},{"g":"black","x":3.352,"y":4.7},{"g":"black","x":3.367,"y":4.3},{"g":"black","x":3.382,"y":5.1},{"g":"black","x":3.397,"y":3.8},{"g":"black","x":3.408,"y":4.3},{"g":"black","x":3.416,"y":3.8},{"g":"black","x":3.254,"y":8.5},{"g":"black","x":3.359,"y":3.2},{"g":"black","x":3.389,"y":3.2},{"g":"black","x":3.292,"y":5.6},
{"g":"black","x":3.280,"y":5.2},{"g":"black","x":3.305,"y":4.8},{"g":"black","x":3.320,"y":4.2},{"g":"black","x":3.345,"y":4.2},{"g":"black","x":3.360,"y":3.8},{"g":"black","x":3.375,"y":4.0},{"g":"black","x":3.400,"y":4.6},{"g":"black","x":3.412,"y":4.0},{"g":"black","x":3.255,"y":6.0},{"g":"black","x":3.270,"y":5.5}
],
"nf": [
{"x":2.75,"y":32.88},{"x":2.80,"y":28.70},{"x":2.85,"y":24.78},{"x":2.90,"y":21.10},{"x":2.95,"y":17.68},{"x":3.00,"y":14.50},{"x":3.05,"y":11.58},{"x":3.10,"y":8.90},{"x":3.15,"y":6.48},{"x":3.20,"y":4.30},{"x":3.25,"y":2.38},{"x":3.30,"y":0.70},{"x":3.35,"y":-0.73},{"x":3.40,"y":-1.90},{"x":3.45,"y":-2.83},{"x":3.50,"y":-3.50},{"x":3.55,"y":-3.93}
],
"nb": [
{"b":"l","x":2.75,"y":28.58},{"b":"l","x":2.80,"y":24.40},{"b":"l","x":2.85,"y":20.48},{"b":"l","x":2.90,"y":16.80},{"b":"l","x":2.95,"y":13.38},{"b":"l","x":3.00,"y":10.20},{"b":"l","x":3.05,"y":7.28},{"b":"l","x":3.10,"y":4.60},{"b":"l","x":3.15,"y":2.18},{"b":"l","x":3.20,"y":0.00},{"b":"l","x":3.25,"y":-1.92},{"b":"l","x":3.30,"y":-3.60},{"b":"l","x":3.35,"y":-5.03},{"b":"l","x":3.40,"y":-6.20},{"b":"l","x":3.45,"y":-7.13},{"b":"l","x":3.50,"y":-7.80},{"b":"l","x":3.55,"y":-8.23},
{"b":"u","x":2.75,"y":37.18},{"b":"u","x":2.80,"y":33.00},{"b":"u","x":2.85,"y":29.08},{"b":"u","x":2.90,"y":25.40},{"b":"u","x":2.95,"y":21.98},{"b":"u","x":3.00,"y":18.80},{"b":"u","x":3.05,"y":15.88},{"b":"u","x":3.10,"y":13.20},{"b":"u","x":3.15,"y":10.78},{"b":"u","x":3.20,"y":8.60},{"b":"u","x":3.25,"y":6.68},{"b":"u","x":3.30,"y":5.00},{"b":"u","x":3.35,"y":3.57},{"b":"u","x":3.40,"y":2.40},{"b":"u","x":3.45,"y":1.47},{"b":"u","x":3.50,"y":0.80},{"b":"u","x":3.55,"y":0.37}
],
"t1": [{"t":"Pump Head Curve"}],
"t2": [{"t":"Pump Power Curve"}],
"t3": [{"t":"Pump Efficiency Curve"}],
"t4": [{"t":"Specific Speed vs. Pump Speed Curve"}]
},
"concat": [
{"width": 344, "height": 37, "view": {"stroke": "#d9d9d9", "strokeWidth": 1}, "data": {"name": "t1"},
 "mark": {"type": "text", "font": "Liberation Serif", "fontWeight": "bold", "fontSize": 20, "color": "#111111"},
 "encoding": {"text": {"field": "t", "type": "nominal"}}},
{"width": 345, "height": 37, "view": {"stroke": "#d9d9d9", "strokeWidth": 1}, "data": {"name": "t2"},
 "mark": {"type": "text", "font": "Liberation Serif", "fontWeight": "bold", "fontSize": 20, "color": "#111111"},
 "encoding": {"text": {"field": "t", "type": "nominal"}}},
{"width": 359, "height": 189,
 "encoding": {
  "x": {"field": "x", "type": "quantitative", "scale": {"domain": [0.0044, 0.02062], "nice": false, "zero": false},
        "axis": {"values": [0.005, 0.01, 0.015, 0.02], "format": ".3f", "title": ["Cf, flow coefficient", "Dimensionless pump curve"]}},
  "y": {"field": "y", "type": "quantitative", "scale": {"domain": [0.0463, 0.153], "nice": false, "zero": false},
        "axis": {"values": [0.06, 0.08, 0.1, 0.12, 0.14], "labelExpr": "round(datum.value*100) % 4 == 2 ? format(datum.value, '.2f') : ''", "title": "Ch, head coefficient"}}
 },
 "layer": [
  {"data": {"name": "h"}, "mark": {"type": "point", "shape": "circle", "filled": false, "size": 22, "strokeWidth": 1.4, "opacity": 1},
   "encoding": {"color": {"field": "g", "type": "nominal", "legend": null, "scale": {"domain": ["cyan","magenta","yellow","orange","gray","black"], "range": ["#2ee6e6","#f01ef0","#f0ea00","#ff9a00","#bdbdbd","#111111"]}}}},
  {"data": {"name": "hb"}, "mark": {"type": "line", "clip": true, "color": "#f7a623", "strokeWidth": 1.5, "strokeDash": [6, 5]}, "encoding": {"detail": {"field": "b"}}},
  {"data": {"name": "hf"}, "mark": {"type": "line", "clip": true, "color": "#ffa500", "strokeWidth": 3}, "encoding": {}}
 ]},
{"width": 354, "height": 189,
 "encoding": {
  "x": {"field": "x", "type": "quantitative", "scale": {"domain": [2.72, 3.518], "nice": false, "zero": false},
        "axis": {"values": [2.8, 3.0, 3.2, 3.4], "format": ".1f", "title": ["Cs, speed coefficient", "Dimensionless speed curve"]}},
  "y": {"field": "y", "type": "quantitative", "scale": {"domain": [0.01342, 0.05628], "nice": false, "zero": false},
        "axis": {"values": [0.02, 0.03, 0.04, 0.05], "format": ".2f", "title": "Cp, power coefficient"}}
 },
 "layer": [
  {"data": {"name": "p"}, "mark": {"type": "point", "shape": "circle", "filled": false, "size": 22, "strokeWidth": 1.4, "opacity": 1},
   "encoding": {"color": {"field": "g", "type": "nominal", "legend": null, "scale": {"domain": ["cyan","magenta","yellow","orange","gray","black"], "range": ["#2ee6e6","#f01ef0","#f0ea00","#ff9a00","#bdbdbd","#111111"]}}}},
  {"data": {"name": "pb"}, "mark": {"type": "line", "clip": true, "color": "#f7a623", "strokeWidth": 1.5, "strokeDash": [6, 5]}, "encoding": {"detail": {"field": "b"}}},
  {"data": {"name": "pf"}, "mark": {"type": "line", "clip": true, "color": "#ffa500", "strokeWidth": 3}, "encoding": {}}
 ]},
{"width": 1, "height": 88, "view": {"stroke": null}, "data": {"values": []}, "mark": "text", "encoding": {}},
{"width": 1, "height": 88, "view": {"stroke": null}, "data": {"values": []}, "mark": "text", "encoding": {}},
{"width": 345, "height": 37, "view": {"stroke": "#d9d9d9", "strokeWidth": 1}, "data": {"name": "t3"},
 "mark": {"type": "text", "font": "Liberation Serif", "fontWeight": "bold", "fontSize": 20, "color": "#111111"},
 "encoding": {"text": {"field": "t", "type": "nominal"}}},
{"width": 354, "height": 37, "view": {"stroke": "#d9d9d9", "strokeWidth": 1}, "data": {"name": "t4"},
 "mark": {"type": "text", "font": "Liberation Serif", "fontWeight": "bold", "fontSize": 20, "color": "#111111"},
 "encoding": {"text": {"field": "t", "type": "nominal"}}},
{"width": 359, "height": 190,
 "encoding": {
  "x": {"field": "x", "type": "quantitative", "scale": {"domain": [0.0044, 0.02062], "nice": false, "zero": false},
        "axis": {"values": [0.005, 0.01, 0.015, 0.02], "format": ".3f", "title": ["Cf, flow coefficient", "Efficiency curve"]}},
  "y": {"field": "y", "type": "quantitative", "scale": {"domain": [0.27, 1.03], "nice": false, "zero": false},
        "axis": {"values": [0.3, 0.4, 0.5, 0.6, 0.7, 0.8, 0.9, 1.0], "labelExpr": "round(datum.value*10) % 2 == 1 ? format(datum.value, '.1f') : ''", "title": "Pump efficiency"}}
 },
 "layer": [
  {"data": {"name": "e"}, "mark": {"type": "point", "shape": "circle", "filled": false, "size": 22, "strokeWidth": 1.4, "opacity": 1},
   "encoding": {"color": {"field": "g", "type": "nominal", "legend": null, "scale": {"domain": ["cyan","magenta","yellow","orange","gray","black"], "range": ["#2ee6e6","#f01ef0","#f0ea00","#ff9a00","#bdbdbd","#111111"]}}}},
  {"data": {"name": "eb"}, "mark": {"type": "line", "clip": true, "color": "#f7a623", "strokeWidth": 1.5, "strokeDash": [6, 5]}, "encoding": {"detail": {"field": "b"}}},
  {"data": {"name": "ef"}, "mark": {"type": "line", "clip": true, "color": "#ffa500", "strokeWidth": 3}, "encoding": {}}
 ]},
{"width": 354, "height": 190,
 "encoding": {
  "x": {"field": "x", "type": "quantitative", "scale": {"domain": [2.72, 3.518], "nice": false, "zero": false},
        "axis": {"values": [2.8, 3.0, 3.2, 3.4], "format": ".1f", "title": ["Cs, speed coefficient", "Specific speed curve"]}},
  "y": {"field": "y", "type": "quantitative", "scale": {"domain": [-4.2, 103.4], "nice": false, "zero": false},
        "axis": {"values": [0, 20, 40, 60, 80, 100], "format": "d", "title": "Ns, specific speed"}}
 },
 "layer": [
  {"data": {"name": "n"}, "mark": {"type": "point", "shape": "circle", "filled": false, "size": 22, "strokeWidth": 1.4, "opacity": 1},
   "encoding": {"color": {"field": "g", "type": "nominal", "legend": null, "scale": {"domain": ["cyan","magenta","yellow","orange","gray","black"], "range": ["#2ee6e6","#f01ef0","#f0ea00","#ff9a00","#bdbdbd","#111111"]}}}},
  {"data": {"name": "nb"}, "mark": {"type": "line", "clip": true, "color": "#f7a623", "strokeWidth": 1.5, "strokeDash": [6, 5]}, "encoding": {"detail": {"field": "b"}}},
  {"data": {"name": "nf"}, "mark": {"type": "line", "clip": true, "color": "#ffa500", "strokeWidth": 3}, "encoding": {}}
 ]}
],
"config": {
 "font": "Liberation Sans",
 "view": {"stroke": "#222222", "strokeWidth": 1.5},
 "axis": {"domain": false, "grid": false, "ticks": true, "tickSize": 10, "tickColor": "#222222", "tickWidth": 1.3,
          "labelFont": "Liberation Sans", "labelFontSize": 15, "labelColor": "#444444", "labelOverlap": false, "labelFlush": false,
          "titleFont": "Liberation Sans", "titleFontSize": 15, "titleColor": "#333333", "titleFontWeight": "normal"},
 "axisX": {"labelPadding": 10, "titlePadding": 18, "titleLineHeight": 18.5},
 "axisY": {"labelAngle": -90, "labelAlign": "center", "labelBaseline": "bottom", "labelPadding": 7, "titlePadding": 20}
}
}
